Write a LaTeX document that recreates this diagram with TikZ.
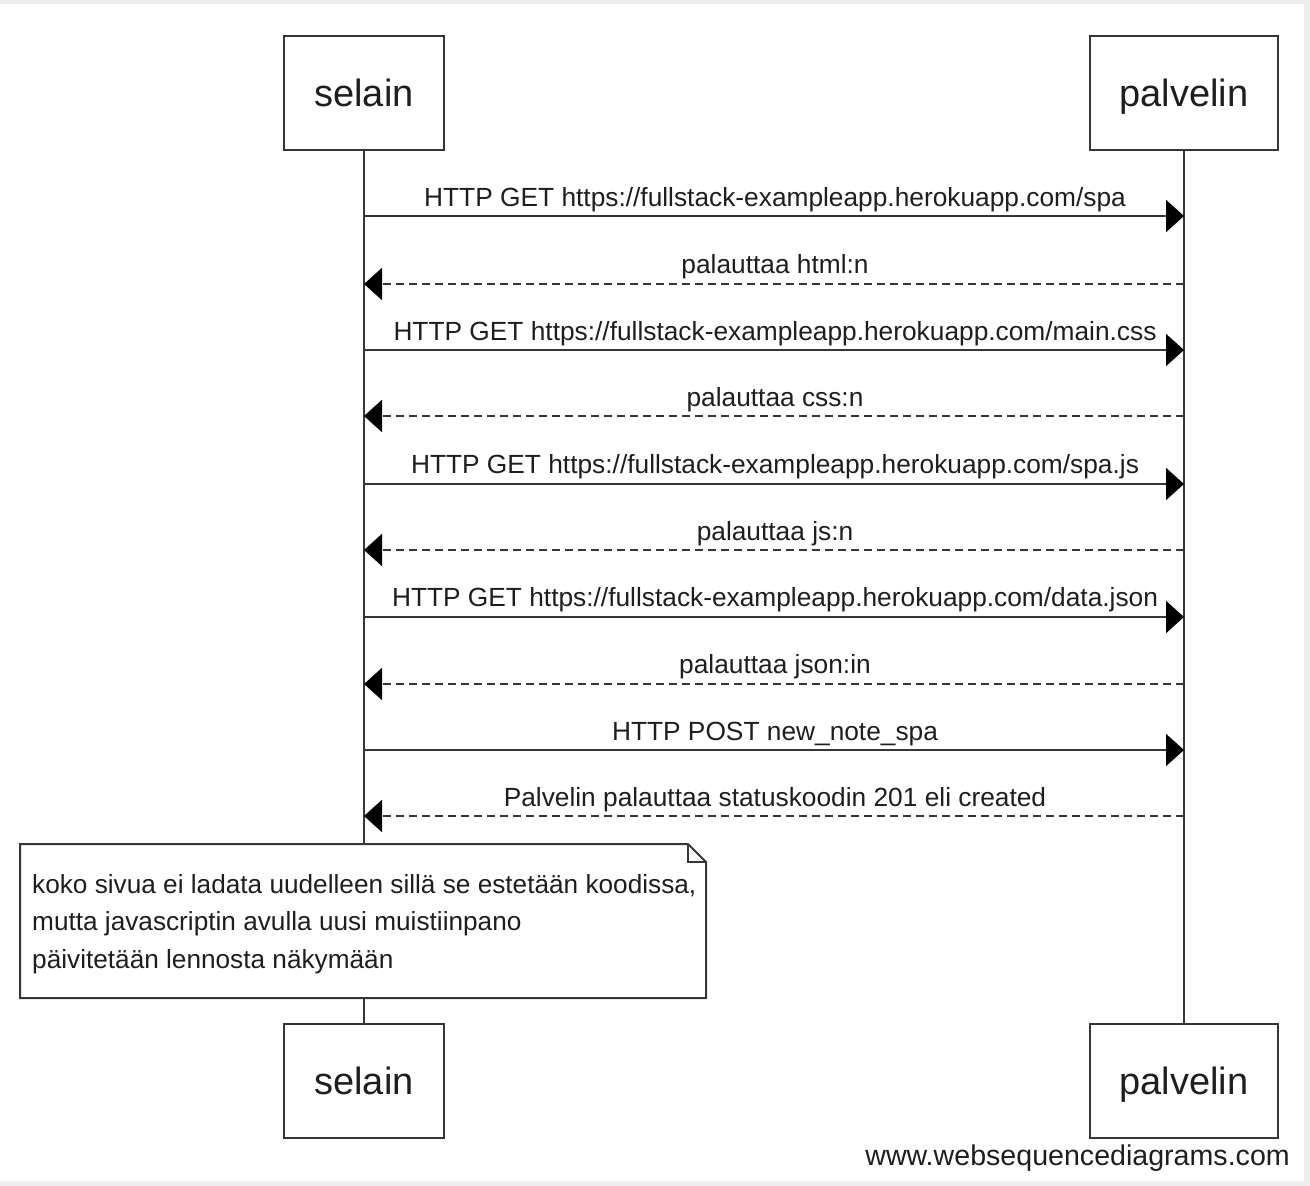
\documentclass[tikz,border=0pt]{standalone}
\usepackage{fontspec}
\setmainfont{Liberation Sans}
\usetikzlibrary{arrows.meta}
\definecolor{linec}{HTML}{363636}
\definecolor{textc}{HTML}{1E1E1E}
\definecolor{framec}{HTML}{EEEEEE}
\tikzset{
  actor/.style={draw=linec, line width=2pt, fill=white, minimum width=#1, minimum height=114pt,
    inner sep=0pt, text=textc, font=\fontsize{38}{44}\selectfont, text height=27pt, text depth=0pt},
  lifeline/.style={draw=linec, line width=2pt},
  msg/.style={draw=linec, line width=2pt, -{Triangle[length=18pt,width=32pt,fill=black,color=black]}},
  reply/.style={msg, dash pattern=on 8pt off 5pt},
  msglabel/.style={anchor=base, inner sep=0pt, text=textc, font=\fontsize{26.3}{30}\selectfont},
  notebox/.style={draw=linec, line width=2pt, fill=white, line join=miter},
  notetext/.style={anchor=base west, inner sep=0pt, text=textc, font=\fontsize{26.2}{30}\selectfont},
}
\begin{document}
\begin{tikzpicture}[x=1pt,y=-1pt]
\useasboundingbox (0,0) rectangle (1310,1186);
\fill[framec] (0,0) rectangle (1310,4);
\fill[framec] (1304,0) rectangle (1310,1186);
\fill[framec] (0,1181) rectangle (1310,1186);

% lifelines
\coordinate (s0) at (364,150);
\coordinate (s1) at (364,1024);
\coordinate (p0) at (1184,150);
\coordinate (p1) at (1184,1024);
\draw[lifeline] (s0) -- (s1);
\draw[lifeline] (p0) -- (p1);

% actors
\node[actor=160pt] (selTop) at (364,93) {selain};
\node[actor=188pt] (palTop) at (1184,93) {palvelin};
\node[actor=160pt] (selBot) at (364,1081) {selain};
\node[actor=188pt] (palBot) at (1184,1081) {palvelin};

% messages
\foreach \i/\y in {1/216,2/284,3/350,4/416,5/484,6/550,7/617,8/684,9/750,10/816}{
  \coordinate (sa\i) at (364,\y);
  \coordinate (pa\i) at (1184,\y);
}
\draw[msg] (sa1) -- (pa1);
\node[msglabel] (l1) at (775,206) {HTTP GET https://fullstack-exampleapp.herokuapp.com/spa};
\draw[reply] (pa2) -- (sa2);
\node[msglabel] (l2) at (775,273) {palauttaa html:n};
\draw[msg] (sa3) -- (pa3);
\node[msglabel] (l3) at (775,340) {HTTP GET https://fullstack-exampleapp.herokuapp.com/main.css};
\draw[reply] (pa4) -- (sa4);
\node[msglabel] (l4) at (775,406) {palauttaa css:n};
\draw[msg] (sa5) -- (pa5);
\node[msglabel] (l5) at (775,473) {HTTP GET https://fullstack-exampleapp.herokuapp.com/spa.js};
\draw[reply] (pa6) -- (sa6);
\node[msglabel] (l6) at (775,540) {palauttaa js:n};
\draw[msg] (sa7) -- (pa7);
\node[msglabel] (l7) at (775,606) {HTTP GET https://fullstack-exampleapp.herokuapp.com/data.json};
\draw[reply] (pa8) -- (sa8);
\node[msglabel] (l8) at (775,673) {palauttaa json:in};
\draw[msg] (sa9) -- (pa9);
\node[msglabel] (l9) at (775,740) {HTTP POST new\_note\_spa};
\draw[reply] (pa10) -- (sa10);
\node[msglabel] (l10) at (775,806) {Palvelin palauttaa statuskoodin 201 eli created};

% note
\draw[notebox] (20,844) -- (688,844) -- (706,862) -- (706,998) -- (20,998) -- cycle;
\draw[draw=linec, line width=2pt] (688,844) -- (688,862) -- (706,862);
\node[notetext] (n1) at (32,893) {koko sivua ei ladata uudelleen sillä se estetään koodissa,};
\node[notetext] (n2) at (32,930) {mutta javascriptin avulla uusi muistiinpano};
\node[notetext] (n3) at (32,968) {päivitetään lennosta näkymään};

% watermark
\node[anchor=base east, inner sep=0pt, text=textc, font=\fontsize{28.6}{32}\selectfont] (wm) at (1290,1165) {www.websequencediagrams.com};
\end{tikzpicture}
\end{document}
